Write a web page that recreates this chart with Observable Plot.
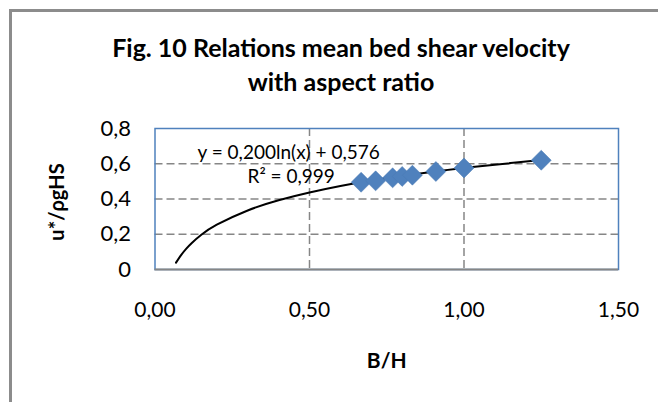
<!DOCTYPE html>
<html>
<head>
<meta charset="utf-8">
<script src="https://cdn.jsdelivr.net/npm/d3@7"></script>
<script src="https://cdn.jsdelivr.net/npm/@observablehq/plot@0.6"></script>
<style>
  html, body { margin: 0; padding: 0; background: #fff; overflow: hidden; }
  #wrap { position: relative; width: 658px; height: 402px; overflow: hidden; font-family: Lato, sans-serif; }
  #frame { position: absolute; left: 9px; top: 9px; width: 700px; height: 450px; border-left: 3px solid #8c8c8c; border-top: 3px solid #8c8c8c; box-sizing: border-box; }
  #title { position: absolute; left: 0; width: 682px; top: 30px; text-align: center; font-weight: bold; font-size: 25px; line-height: 34px; color: #000; }
  #chart { position: absolute; left: 0; top: 0; }
</style>
</head>
<body>
<div id="wrap">
  <div id="frame"></div>
  <div id="chart"></div>
  <div id="title">Fig. 10 Relations mean bed shear velocity<br>with aspect ratio</div>
</div>
<script>
// Measured data (B/H vs u*/ρgHS)
const bh = [0.667, 0.714, 0.769, 0.8, 0.833, 0.909, 1.0, 1.25];
const uStar = [0.495, 0.503, 0.52, 0.528, 0.535, 0.556, 0.576, 0.62];

// Logarithmic trendline as drawn
const trendX = [0.068, 0.085, 0.1, 0.12, 0.15, 0.2, 0.3, 0.4, 0.5, 0.6, 0.7, 0.8, 0.9, 1.0, 1.1, 1.25];
const trendY = [0.039, 0.083, 0.116, 0.152, 0.197, 0.254, 0.335, 0.393, 0.437, 0.474, 0.505, 0.531, 0.555, 0.576, 0.595, 0.621];

const xTicks = [0, 0.5, 1.0, 1.5];
const yTicks = [0, 0.2, 0.4, 0.6, 0.8];
const xGrid = [0.5, 1.0];
const yGrid = [0.2, 0.4, 0.6];

const eqText = "y = 0,200ln(x) + 0,576";
const r2Text = "R² = 0,999";
const xLabel = "B/H";
const yLabel = "u*/ρgHS";

const points = bh.map((x, i) => ({x, y: uStar[i]}));
const trend = trendX.map((x, i) => ({x, y: trendY[i]}));

const fontFam = 'Lato, sans-serif';
const fmtX = d => d.toFixed(2).replace(".", ",");
const fmtY = d => d === 0 ? "0" : d.toFixed(1).replace(".", ",");

const chart = Plot.plot({
  width: 658,
  height: 402,
  marginLeft: 154.5,
  marginRight: 40,
  marginTop: 128,
  marginBottom: 133,
  style: {fontFamily: fontFam, background: "transparent", color: "#000"},
  x: {domain: [0, 1.5]},
  y: {domain: [0, 0.8]},
  marks: [
    Plot.gridY(yGrid, {stroke: "#868686", strokeOpacity: 1, strokeWidth: 1.5, strokeDasharray: "8,4"}),
    Plot.gridX(xGrid, {stroke: "#868686", strokeOpacity: 1, strokeWidth: 1.5, strokeDasharray: "8,4"}),
    Plot.frame({stroke: "#4f81bd", strokeWidth: 1.5}),
    Plot.ruleY([0], {stroke: "#868686", strokeWidth: 2}),
    Plot.axisX(xTicks, {tickSize: 0, tickPadding: 33, fontSize: 21, tickFormat: fmtX, label: null}),
    Plot.axisY(yTicks, {tickSize: 0, tickPadding: 24, fontSize: 22, tickFormat: fmtY, label: null}),
    Plot.line(trend, {x: "x", y: "y", stroke: "#000", strokeWidth: 2, curve: "natural"}),
    Plot.dot(points, {x: "x", y: "y", symbol: "diamond2", r: 9, fill: "#4f81bd", stroke: "#4a7ab3", strokeWidth: 0.5}),
    Plot.text([eqText], {frameAnchor: "top-left", textAnchor: "start", lineAnchor: "bottom", dx: 42.5, dy: 30, fontSize: 19, fill: "#000"}),
    Plot.text([r2Text], {frameAnchor: "top-left", textAnchor: "start", lineAnchor: "bottom", dx: 92.5, dy: 54, fontSize: 19, fill: "#000"}),
    Plot.text([xLabel], {frameAnchor: "bottom", lineAnchor: "bottom", dy: 98, fontSize: 21, fontWeight: "bold", fill: "#000"}),
    Plot.text([yLabel], {frameAnchor: "left", rotate: -90, textAnchor: "middle", lineAnchor: "middle", dx: -97.5, dy: 3, fontSize: 20, fontWeight: "bold", fill: "#000"})
  ]
});
document.getElementById("chart").appendChild(chart);
</script>
</body>
</html>
